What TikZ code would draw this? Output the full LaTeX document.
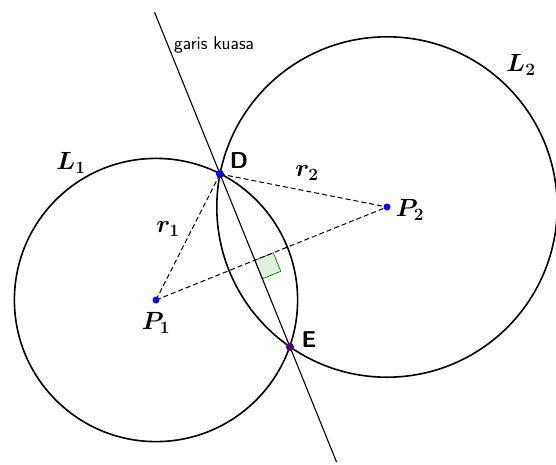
\documentclass[tikz,border=0pt]{standalone}
\usepackage{amsmath,bm}
\usetikzlibrary{calc}
\definecolor{ptblue}{RGB}{0,0,255}
\definecolor{ptpurple}{RGB}{80,0,130}
\definecolor{rgreen}{RGB}{0,128,0}
\tikzset{
  circ/.style={line width=1.6pt},
  kline/.style={line width=1.1pt},
  dline/.style={line width=1pt, dash pattern=on 5pt off 3pt},
  dot/.style={circle, fill=ptblue, inner sep=0pt, minimum size=7pt},
  mlabel/.style={font=\fontsize{23}{27}\selectfont},
  slabel/.style={font=\fontsize{23}{27}\selectfont\sffamily\bfseries},
}
\begin{document}
\begin{tikzpicture}[x=1pt,y=-1pt]
\useasboundingbox (0,0) rectangle (556,464);
\coordinate (P1) at (156,300);
\coordinate (P2) at (387,207);
\coordinate (D) at (220,174);
\coordinate (E) at (290,347);
\coordinate (F) at ($(P1)!(D)!(P2)$);
\coordinate (Ftop) at ($(D)!-0.936!(E)$);
\coordinate (Fbot) at ($(D)!1.665!(E)$);
% right angle marker
\coordinate (Fa) at ($(F)!20pt!(P2)$);
\coordinate (Fb) at ($(F)!20pt!(E)$);
\coordinate (Fc) at ($(Fa)+(Fb)-(F)$);
\draw[rgreen, fill=rgreen!12, line width=0.7pt] (F) -- (Fa) -- (Fc) -- (Fb) -- cycle;
% circles
\draw[circ] (P1) circle[radius=141.6];
\draw[circ] (P2) circle[radius=170.2];
% power line
\draw[kline] (Ftop) -- (Fbot);
% dashed segments
\draw[dline] (P1) -- (D);
\draw[dline] (D) -- (P2);
\draw[dline] (P1) -- (P2);
% points
\node[dot, minimum size=8pt] (nD) at (D) {};
\node[dot, fill=ptpurple, minimum size=8pt] (nE) at (E) {};
\node[dot] (nP1) at (P1) {};
\node[dot] (nP2) at (P2) {};
% labels
\node[font=\fontsize{18.5}{22}\selectfont\sffamily, anchor=base west, inner sep=0pt] (gk) at (174,49) {garis kuasa};
\node[mlabel] (lL1) at (71,163) {$\bm{L_1}$};
\node[mlabel] (lL2) at (521,65) {$\bm{L_2}$};
\node[slabel] (lD) at (239,161) {D};
\node[slabel] (lE) at (309,340) {E};
\node[mlabel] (lr1) at (168,229) {$\bm{r_1}$};
\node[mlabel] (lr2) at (307,173) {$\bm{r_2}$};
\node[mlabel] (lP1) at (156,323) {$\bm{P_1}$};
\node[mlabel] (lP2) at (410,210) {$\bm{P_2}$};
\end{tikzpicture}
\end{document}
